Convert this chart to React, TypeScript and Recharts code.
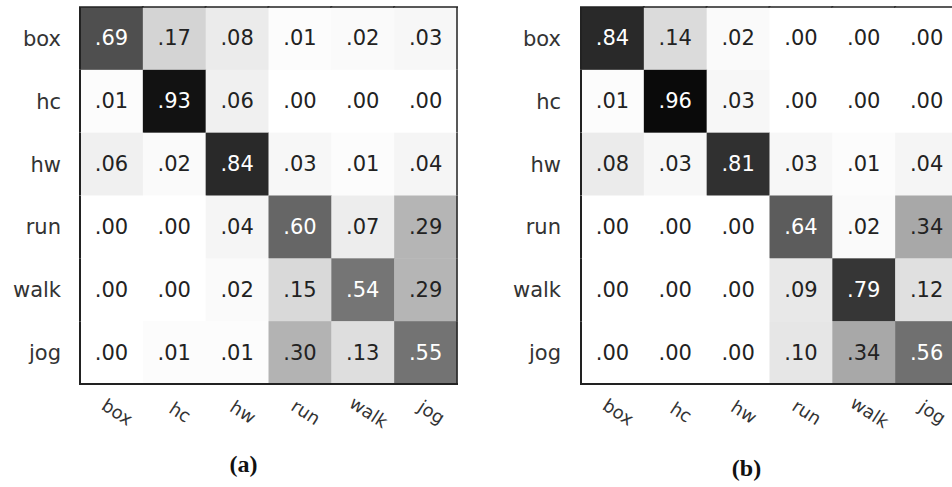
import React from "react";
import { ScatterChart, Scatter, XAxis, YAxis, Label } from "recharts";

// action classes, used for both rows (true) and columns (predicted)
const classes = ["box", "hc", "hw", "run", "walk", "jog"];

// confusion matrix (a)
const matrixA = [
  [0.69, 0.17, 0.08, 0.01, 0.02, 0.03],
  [0.01, 0.93, 0.06, 0.0, 0.0, 0.0],
  [0.06, 0.02, 0.84, 0.03, 0.01, 0.04],
  [0.0, 0.0, 0.04, 0.6, 0.07, 0.29],
  [0.0, 0.0, 0.02, 0.15, 0.54, 0.29],
  [0.0, 0.01, 0.01, 0.3, 0.13, 0.55],
];

// confusion matrix (b)
const matrixB = [
  [0.84, 0.14, 0.02, 0.0, 0.0, 0.0],
  [0.01, 0.96, 0.03, 0.0, 0.0, 0.0],
  [0.08, 0.03, 0.81, 0.03, 0.01, 0.04],
  [0.0, 0.0, 0.0, 0.64, 0.02, 0.34],
  [0.0, 0.0, 0.0, 0.09, 0.79, 0.12],
  [0.0, 0.0, 0.0, 0.1, 0.34, 0.56],
];

const PLOT = 377;
const CELL = PLOT / classes.length;
const SANS = "'DejaVu Sans', sans-serif";
const BORDER = "#222";
const centers = classes.map((_, i) => i + 0.5);
const last = classes.length - 0.5;

const fmt = (v: number) => "." + String(Math.round(v * 100)).padStart(2, "0");

const toPoints = (m: number[][]) =>
  m.flatMap((row, r) => row.map((v, c) => ({ x: c + 0.5, y: r + 0.5, v })));

// one matrix cell; cells on the outside also draw their piece of the frame
function CellShape(props: any) {
  const { cx, cy, payload } = props;
  const v = payload.v;
  const g = Math.round(255 * (1 - v));
  const x0 = cx - CELL / 2;
  const y0 = cy - CELL / 2;
  const x1 = cx + CELL / 2;
  const y1 = cy + CELL / 2;
  const edge = { stroke: BORDER, strokeWidth: 2 };
  return (
    <g>
      <rect x={x0} y={y0} width={CELL + 0.5} height={CELL + 0.5} fill={`rgb(${g},${g},${g})`} />
      <text
        x={cx}
        y={cy}
        textAnchor="middle"
        dominantBaseline="central"
        fontFamily={SANS}
        fontSize={21}
        fill={v > 0.5 ? "#fff" : "#222"}
      >
        {fmt(v)}
      </text>
      {payload.y === 0.5 && <line x1={x0 - 1} x2={x1 + 1} y1={y0} y2={y0} {...edge} strokeWidth={1.5} />}
      {payload.y === last && <line x1={x0 - 1} x2={x1 + 1} y1={y1} y2={y1} {...edge} />}
      {payload.x === 0.5 && <line x1={x0} x2={x0} y1={y0} y2={y1} {...edge} />}
      {payload.x === last && <line x1={x1} x2={x1} y1={y0} y2={y1} {...edge} strokeWidth={1.5} />}
    </g>
  );
}

function ColumnTick(props: any) {
  const { x, y, payload } = props;
  return (
    <text
      x={0}
      y={0}
      transform={`translate(${x + 6},${y + 20}) rotate(33)`}
      textAnchor="middle"
      dominantBaseline="central"
      fontFamily={SANS}
      fontSize={18}
      fill="#333"
    >
      {classes[Math.floor(payload.value)]}
    </text>
  );
}

interface MatrixProps {
  matrix: number[][];
  caption: string;
  left: number;
  axisWidth: number;
  captionDx: number;
  captionY: number;
}

function ConfusionMatrix({ matrix, caption, left, axisWidth, captionDx, captionY }: MatrixProps) {
  const width = axisWidth + PLOT + 4;
  return (
    <div style={{ position: "absolute", left, top: 0 }}>
      <ScatterChart
        width={width}
        height={487}
        margin={{ top: 7, right: 4, bottom: 23, left: 0 }}
      >
        <XAxis
          type="number"
          dataKey="x"
          domain={[0, classes.length]}
          ticks={centers}
          interval={0}
          height={80}
          tickLine={false}
          axisLine={false}
          tick={<ColumnTick />}
        >
          <Label
            content={(p: any) => (
              <text
                x={p.viewBox.x + p.viewBox.width / 2 + captionDx}
                y={captionY}
                textAnchor="middle"
                fontFamily="'Liberation Serif', serif"
                fontWeight="bold"
                fontSize={24}
                fill="#111"
              >
                {caption}
              </text>
            )}
          />
        </XAxis>
        <YAxis
          type="number"
          dataKey="y"
          reversed
          domain={[0, classes.length]}
          ticks={centers}
          interval={0}
          width={axisWidth}
          tickLine={false}
          tickMargin={axisWidth - 80 + 13}
          axisLine={false}
          tickFormatter={(v: number) => classes[Math.floor(v)]}
          tick={{ fontFamily: SANS, fontSize: 21, fill: "#333" }}
        />
        <Scatter
          data={toPoints(matrix)}
          shape={CellShape}
          isAnimationActive={false}
        />
      </ScatterChart>
    </div>
  );
}

export default function App() {
  return (
    <div
      style={{
        position: "absolute",
        left: 0,
        top: 0,
        width: 952,
        height: 487,
        overflow: "hidden",
        background: "#fff",
      }}
    >
      <ConfusionMatrix
        matrix={matrixA}
        caption="(a)"
        left={0}
        axisWidth={80}
        captionDx={-25}
        captionY={472}
      />
      <ConfusionMatrix
        matrix={matrixB}
        caption="(b)"
        left={500}
        axisWidth={81}
        captionDx={-23}
        captionY={476}
      />
    </div>
  );
}
